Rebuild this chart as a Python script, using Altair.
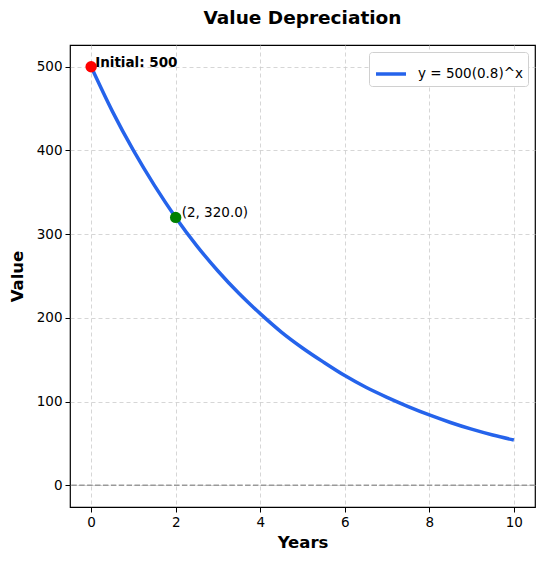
import altair as alt
import pandas as pd

years = [0, 0.5, 1, 1.5, 2, 2.5, 3, 3.5, 4, 4.5, 5, 5.5, 6, 6.5, 7, 7.5, 8, 8.5, 9, 9.5, 10]
values = [500, 447, 400, 358, 320, 286, 256, 229, 205, 183, 164, 147, 131, 117, 105, 94, 84, 75, 67, 60, 54]
series_name = ["y = 500(0.8)^x"]
x_ticks = [0, 2, 4, 6, 8, 10]
y_ticks = [0, 100, 200, 300, 400, 500]

initial_point = {"x": [0], "y": [500], "label": ["Initial: 500"]}
marked_point = {"x": [2], "y": [320.0], "label": ["(2, 320.0)"]}

FONT = "DejaVu Sans"
BLUE = "#2563eb"

curve_df = pd.DataFrame({"x": years, "y": values, "series": series_name * len(years)})
init_df = pd.DataFrame(initial_point)
mark_df = pd.DataFrame(marked_point)
zero_df = pd.DataFrame({"y": [0]})

xscale = alt.Scale(domain=[-0.5, 10.5], nice=False, zero=False)
yscale = alt.Scale(domain=[-26, 526], nice=False, zero=False)

xaxis = alt.Axis(values=x_ticks, title="Years", format="d")
yaxis = alt.Axis(values=y_ticks, title="Value", format="d")

zero_line = alt.Chart(zero_df).mark_rule(
    color="#999999", strokeWidth=1.5, strokeDash=[5.5, 2.4]
).encode(y=alt.Y("y:Q", scale=yscale, axis=yaxis))

curve = alt.Chart(curve_df).mark_line(strokeWidth=3.5, interpolate="monotone").encode(
    x=alt.X("x:Q", scale=xscale, axis=xaxis),
    y=alt.Y("y:Q", scale=yscale, axis=yaxis),
    color=alt.Color(
        "series:N",
        scale=alt.Scale(domain=series_name, range=[BLUE]),
        legend=alt.Legend(
            title=None,
            orient="top-right",
            offset=7,
            symbolType="stroke",
            symbolStrokeWidth=3.5,
            symbolSize=900,
            labelFont=FONT,
            labelFontSize=13.5,
            labelColor="black",
            fillColor="white",
            strokeColor="#d0d0d0",
            cornerRadius=3,
            padding=5,
            labelOffset=10,
        ),
    ),
)

init_pt = alt.Chart(init_df).mark_circle(size=130, color="red", opacity=1).encode(
    x=alt.X("x:Q", scale=xscale), y=alt.Y("y:Q", scale=yscale)
)
init_txt = alt.Chart(init_df).mark_text(
    align="left", baseline="alphabetic", dx=4, dy=0, font=FONT, fontSize=13.5,
    fontWeight="bold", color="black"
).encode(x=alt.X("x:Q", scale=xscale), y=alt.Y("y:Q", scale=yscale), text="label:N")

mark_pt = alt.Chart(mark_df).mark_circle(size=130, color="green", opacity=1).encode(
    x=alt.X("x:Q", scale=xscale), y=alt.Y("y:Q", scale=yscale)
)
mark_txt = alt.Chart(mark_df).mark_text(
    align="left", baseline="alphabetic", dx=6, dy=0, font=FONT, fontSize=13.5,
    color="black"
).encode(x=alt.X("x:Q", scale=xscale), y=alt.Y("y:Q", scale=yscale), text="label:N")

chart = alt.layer(zero_line, curve, init_pt, init_txt, mark_pt, mark_txt).properties(
    width=465,
    height=462,
    title=alt.TitleParams(
        "Value Depreciation", font=FONT, fontSize=18.5, fontWeight="bold",
        color="black", anchor="middle", offset=18
    ),
    autosize=alt.AutoSizeParams(type="none"),
    padding={"left": 62, "top": 37, "right": 1, "bottom": 49},
).configure_view(
    stroke="black", strokeWidth=1.2
).configure_axis(
    labelFont=FONT,
    labelFontSize=13.5,
    labelColor="black",
    titleFont=FONT,
    titleFontSize=16.5,
    titleFontWeight="bold",
    titleColor="black",
    tickColor="black",
    tickSize=5,
    tickWidth=1,
    labelPadding=3,
    domain=False,
    grid=True,
    gridColor="#cccccc",
    gridDash=[4, 3],
    gridWidth=0.8,
).configure_axisX(titlePadding=6).configure_axisY(titlePadding=11)

chart.save("out.html", embed_options={"renderer": "svg", "actions": False})
